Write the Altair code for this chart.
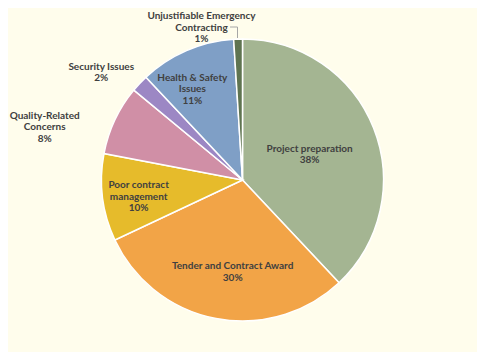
import altair as alt
import pandas as pd

# ---- data ----
categories = [
    "Project preparation",
    "Tender and Contract Award",
    "Poor contract management",
    "Quality-Related Concerns",
    "Security Issues",
    "Health & Safety Issues",
    "Unjustifiable Emergency Contracting",
]
values = [38, 30, 10, 8, 2, 11, 1]
label_lines = [
    ["Project preparation"],
    ["Tender and Contract Award"],
    ["Poor contract", "management"],
    ["Quality-Related", "Concerns"],
    ["Security Issues"],
    ["Health & Safety", "Issues"],
    ["Unjustifiable Emergency", "Contracting"],
]
colors = ["#A4B592", "#F2A447", "#E6BB2B", "#D08FA6", "#9C87C4", "#7F9FC6", "#5F7451"]

# ---- label layout (angle shift in % of the circle, distance from centre in px) ----
label_shift = [-0.9, -1.2, 1.2, -2.0, -1.25, -0.75, -3.4]
label_radius = [74, 87, 104, 208, 181, 114, 169]

df = pd.DataFrame({
    "category": categories,
    "value": values,
    "order": list(range(len(categories))),
    "label": [lines + [f"{v}%"] for lines, v in zip(label_lines, values)],
    "shift": label_shift,
    "lr": label_radius,
})

theta_scale = alt.Scale(domain=[0, 100], range=[0, 6.283185307179586])
FONT = "Lato"
TXT = "#404040"

base = alt.Chart(df)

arcs = base.mark_arc(outerRadius=141, stroke="white", strokeWidth=1.5).encode(
    theta=alt.Theta("value:Q", stack=True, scale=theta_scale),
    color=alt.Color("category:N", scale=alt.Scale(domain=categories, range=colors), legend=None),
    order=alt.Order("order:Q"),
)

labels = base.transform_window(
    cum="sum(value)", sort=[alt.SortField("order")]
).transform_calculate(
    mid="datum.cum - datum.value / 2 + datum.shift"
).mark_text(
    font=FONT, fontSize=10, fontWeight="bold", color=TXT,
    align="center", baseline="middle", lineHeight=11.5,
).encode(
    theta=alt.Theta("mid:Q", scale=theta_scale),
    radius=alt.Radius("lr:Q", scale=None),
    text="label",
)

leader_h = alt.Chart(df.head(1)).mark_rule(color="#A6A6A6", strokeWidth=1).encode(
    x=alt.value(222), x2=alt.value(229.5), y=alt.value(19)
)
leader_v = alt.Chart(df.head(1)).mark_rule(color="#A6A6A6", strokeWidth=1).encode(
    x=alt.value(229.5), y=alt.value(19), y2=alt.value(30)
)

chart = alt.layer(arcs, labels, leader_h, leader_v).properties(
    width=469, height=344, padding=0,
    autosize=alt.AutoSizeParams(type="none"),
    background="#FFFDEC",
).configure_view(stroke=None)

chart.save("out.html", embed_options={"renderer": "svg", "actions": False})
